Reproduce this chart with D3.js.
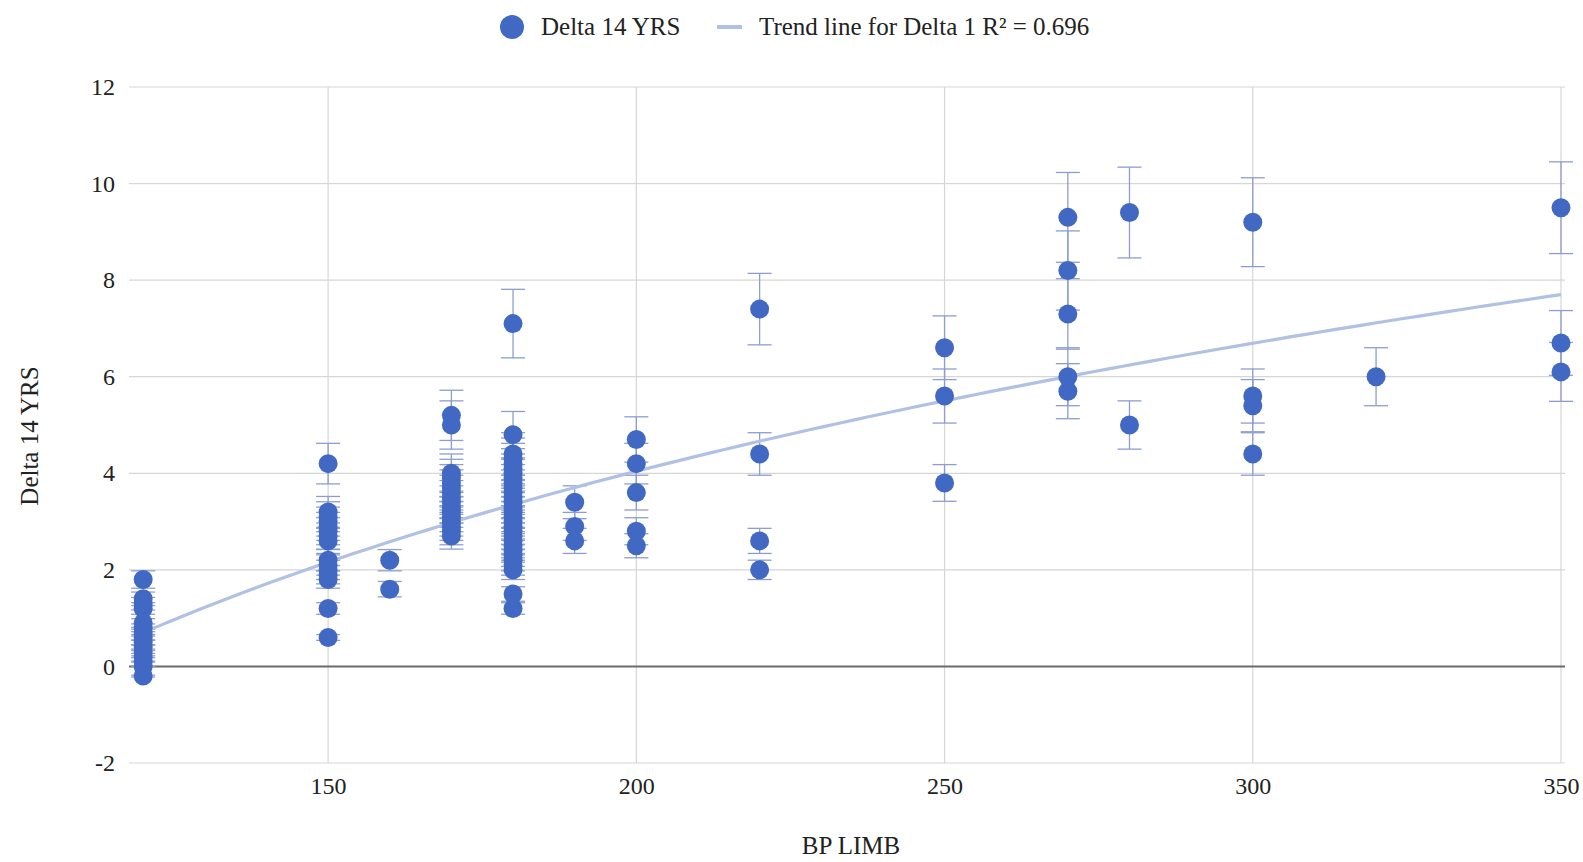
<!DOCTYPE html>
<html>
<head>
<meta charset="utf-8">
<script src="https://cdn.jsdelivr.net/npm/d3@7"></script>
<style>
  body { margin: 0; background: white; }
  text { font-family: "Liberation Serif", "DejaVu Serif", serif; fill: #222; }
  .gridline { stroke: #d6d6d6; stroke-width: 1.2; }
</style>
</head>
<body>
<div id="chart"></div>
<script>
// BP LIMB values and Delta 14 YRS
var bp120 = [1.8, 1.4, 1.3, 1.2, 0.9, 0.8, 0.7, 0.6, 0.5, 0.4, 0.3, 0.2, 0.1, 0, -0.2];
var bp150 = [4.2, 3.2, 3.1, 3.0, 2.9, 2.8, 2.7, 2.6, 2.2, 2.1, 2.0, 1.9, 1.8, 1.2, 0.6];
var bp160 = [2.2, 1.6];
var bp170 = [5.2, 5.0, 4.0, 3.9, 3.8, 3.7, 3.6, 3.5, 3.4, 3.3, 3.2, 3.1, 3.0, 2.9, 2.8, 2.7];
var bp180 = [7.1, 4.8, 4.4, 4.3, 4.2, 4.1, 4.0, 3.9, 3.8, 3.7, 3.6, 3.5, 3.4, 3.3, 3.2, 3.1,
             3.0, 2.9, 2.8, 2.7, 2.6, 2.5, 2.4, 2.3, 2.2, 2.1, 2.0, 1.5, 1.2];
var bp190 = [3.4, 2.9, 2.6];
var bp200 = [4.7, 4.2, 3.6, 2.8, 2.5];
var bp220 = [7.4, 4.4, 2.6, 2.0];
var bp250 = [6.6, 5.6, 3.8];
var bp270 = [9.3, 8.2, 7.3, 6.0, 5.7];
var bp280 = [9.4, 5.0];
var bp300 = [9.2, 5.6, 5.4, 4.4];
var bp320 = [6.0];
var bp350 = [9.5, 6.7, 6.1];

var groups = [
  [120, bp120], [150, bp150], [160, bp160], [170, bp170], [180, bp180],
  [190, bp190], [200, bp200], [220, bp220], [250, bp250], [270, bp270],
  [280, bp280], [300, bp300], [320, bp320], [350, bp350]
];

var xTicks = [150, 200, 250, 300, 350];
var yTicks = [-2, 0, 2, 4, 6, 8, 10, 12];
var errPercent = 10;           // error bars: percent of value
var trendA = 6.54, trendB = -30.61;  // log trend y = a*ln(x) + b
var trendFrom = 120, trendTo = 350;

var points = [];
groups.forEach(function (g) {
  g[1].forEach(function (v) { points.push({ x: g[0], y: v }); });
});

var W = 1583, H = 862;
var serif = "Liberation Serif, DejaVu Serif, serif";
var svg = d3.select("#chart").append("svg")
  .attr("width", W).attr("height", H);

var x = d3.scaleLinear().domain([117.7, 350.65]).range([129, 1565]);
var y = d3.scaleLinear().domain([-2, 12]).range([763, 87]);

// grid
svg.append("g").selectAll("line")
  .data(yTicks.filter(d => d !== 0)).enter().append("line")
  .attr("class", "gridline")
  .attr("x1", x.range()[0]).attr("x2", x.range()[1])
  .attr("y1", d => y(d)).attr("y2", d => y(d));

svg.append("g").selectAll("line")
  .data(xTicks).enter().append("line")
  .attr("class", "gridline")
  .attr("x1", d => x(d)).attr("x2", d => x(d))
  .attr("y1", y.range()[1]).attr("y2", y.range()[0]);

// zero line
svg.append("line")
  .attr("x1", x.range()[0]).attr("x2", x.range()[1])
  .attr("y1", y(0)).attr("y2", y(0))
  .attr("stroke", "#6b6b6b").attr("stroke-width", 2);

// axes (labels only)
var yAxis = svg.append("g")
  .attr("transform", "translate(" + (x.range()[0] - 2) + ",0)")
  .call(d3.axisLeft(y).tickValues(yTicks).tickSize(0).tickPadding(12).tickFormat(d => String(d)))
  .attr("font-family", serif).attr("font-size", 24);
yAxis.select(".domain").remove();
yAxis.selectAll("text").attr("fill", "#222");

var xAxis = svg.append("g")
  .attr("transform", "translate(0," + y.range()[0] + ")")
  .call(d3.axisBottom(x).tickValues(xTicks).tickSize(0).tickPadding(14))
  .attr("font-family", serif).attr("font-size", 24);
xAxis.select(".domain").remove();
xAxis.selectAll("text").attr("fill", "#222");

// axis titles
svg.append("text")
  .attr("x", 851).attr("y", 854)
  .attr("text-anchor", "middle")
  .style("font-size", "25px")
  .text("BP LIMB");

svg.append("text")
  .attr("transform", "translate(38,436)rotate(-90)")
  .attr("text-anchor", "middle")
  .style("font-size", "25px")
  .text("Delta 14 YRS");

// error bars
var eb = svg.append("g").attr("stroke", "#8d9dcf").attr("stroke-width", 1.3);
points.forEach(function (p) {
  var e = Math.abs(p.y) * errPercent / 100;
  var cx = x(p.x);
  eb.append("line").attr("x1", cx).attr("x2", cx)
    .attr("y1", y(p.y - e)).attr("y2", y(p.y + e));
  [p.y - e, p.y + e].forEach(function (v) {
    eb.append("line").attr("x1", cx - 12).attr("x2", cx + 12)
      .attr("y1", y(v)).attr("y2", y(v));
  });
});

// trend line
var trendPts = d3.range(0, 101).map(function (i) {
  var xv = trendFrom + (trendTo - trendFrom) * i / 100;
  return { x: xv, y: trendA * Math.log(xv) + trendB };
});
svg.append("path")
  .datum(trendPts)
  .attr("fill", "none")
  .attr("stroke", "#b0c1e4")
  .attr("stroke-width", 3.2)
  .attr("d", d3.line().x(d => x(d.x)).y(d => y(d.y)));

// points
svg.append("g").selectAll("circle")
  .data(points).enter().append("circle")
  .attr("cx", d => x(d.x))
  .attr("cy", d => y(d.y))
  .attr("r", 9.5)
  .attr("fill", "#4169c4");

// legend
var lg = svg.append("g");
lg.append("circle").attr("cx", 512).attr("cy", 27).attr("r", 12).attr("fill", "#4169c4");
lg.append("text").attr("x", 541).attr("y", 35).style("font-size", "25px").text("Delta 14 YRS");
lg.append("line").attr("x1", 717).attr("x2", 742).attr("y1", 27).attr("y2", 27)
  .attr("stroke", "#b0c1e4").attr("stroke-width", 4);
lg.append("text").attr("x", 759).attr("y", 35).style("font-size", "25px")
  .text("Trend line for Delta 1 R\u00b2 = 0.696");
</script>
</body>
</html>
